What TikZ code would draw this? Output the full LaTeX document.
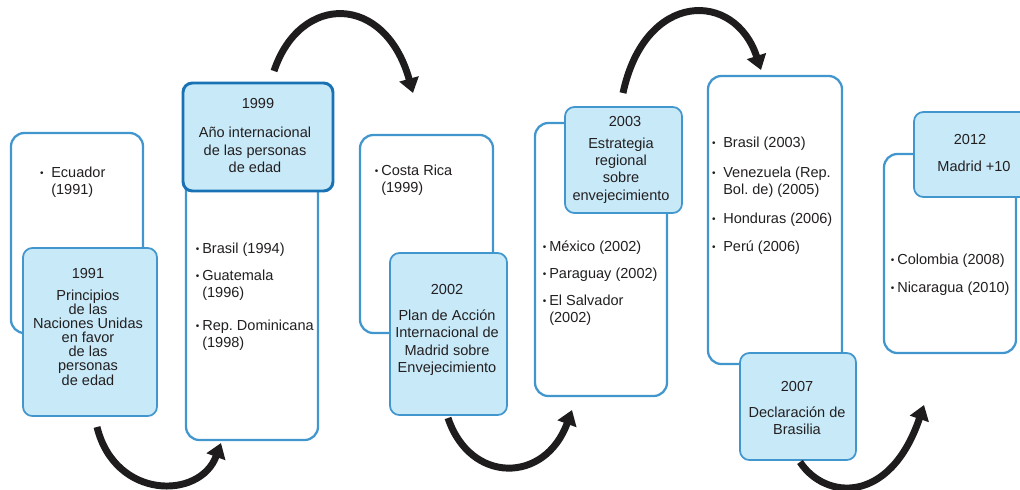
\documentclass[tikz,border=0pt]{standalone}
\usepackage{fontspec}
\setmainfont{Liberation Sans}
\usetikzlibrary{arrows.meta}
\definecolor{bfill}{RGB}{199,233,248}
\definecolor{bline}{RGB}{66,150,206}
\definecolor{bdark}{RGB}{24,114,180}
\definecolor{tgray}{RGB}{35,31,32}
\definecolor{agray}{RGB}{30,28,28}
\newcommand\fsz{\fontsize{10.9pt}{13pt}\selectfont}
\newcommand\bulN{\llap{\raisebox{0.8pt}{\fontsize{7.5pt}{7.5pt}\selectfont\textbullet}\hspace{2.2pt}}}
\newcommand\bulW{\llap{\raisebox{0.8pt}{\fontsize{7.5pt}{7.5pt}\selectfont\textbullet}\hspace{5.8pt}}}
\tikzset{
  wbox/.style={draw=bline, line width=1.7pt, fill=white, rounded corners=10pt},
  bbox/.style={draw=bline, line width=1.3pt, fill=bfill, rounded corners=7pt},
  txt/.style={font=\fsz, text=tgray, inner sep=0pt, align=center},
  itm/.style={font=\fsz, text=tgray, inner sep=0pt, align=left, anchor=west},
  arr/.style={draw=agray, line width=5.2pt, -{Triangle[width=14.5pt,length=11pt]}},
}
\begin{document}
\begin{tikzpicture}[x=0.75pt,y=-0.75pt]
\useasboundingbox (0,0) rectangle (1020,489);
\clip (0,0) rectangle (1020,489);
% ---------- box A ----------
\path[wbox] (11,133) rectangle (143,333);
\path[bbox] (23,248) rectangle (157,416);
\node[itm] (a1) at (51,182) {\bulW Ecuador\\(1991)};
\node[txt] (ay) at (88,273) {1991};
\node[txt, font=\fontsize{10.9pt}{10.6pt}\selectfont] (at) at (88,337.5)
  {Principios\\de las\\Naciones Unidas\\en favor\\de las\\personas\\de edad};
% ---------- box B ----------
\path[wbox] (186,150) rectangle (318,440);
\path[bbox, draw=bdark, line width=2.2pt] (183,83) rectangle (333,191);
\node[txt] (by) at (258,103) {1999};
\node[txt] (bt) at (255,150) {Año internacional\\de las personas\\de edad};
\node[itm] (b1) at (202,250) {\bulN Brasil (1994)};
\node[itm] (b2) at (202,285.5) {\bulN Guatemala\\(1996)};
\node[itm] (b3) at (202,335) {\bulN Rep.\ Dominicana\\(1998)};
% ---------- box C ----------
\path[wbox] (360,135) rectangle (493,333);
\path[bbox] (390,253) rectangle (507,415);
\node[itm] (c1) at (381,180.5) {\bulN Costa Rica\\(1999)};
\node[txt] (cy) at (447,289) {2002};
\node[txt] (ct) at (447,342.5) {Plan de Acción\\Internacional de\\Madrid sobre\\Envejecimiento};
% ---------- box D ----------
\path[wbox] (535,123) rectangle (667,396);
\path[bbox] (565,107) rectangle (682,213);
\node[txt] (dy) at (625,121) {2003};
\node[txt] (dt) at (621,170.5) {Estrategia\\regional\\sobre\\envejecimiento};
\node[itm] (d1) at (549,248) {\bulN México (2002)};
\node[itm] (d2) at (549,275) {\bulN Paraguay (2002)};
\node[itm] (d3) at (549,310) {\bulN El Salvador\\(2002)};
% ---------- box E ----------
\path[wbox] (708,76) rectangle (842,364);
\path[bbox] (740,353) rectangle (856,460);
\node[itm] (e1) at (723,144) {\bulW Brasil (2003)};
\node[itm] (e2) at (723,182) {\bulW Venezuela (Rep.\\Bol.\ de) (2005)};
\node[itm] (e3) at (723,220) {\bulW Honduras (2006)};
\node[itm] (e4) at (723,248) {\bulW Perú (2006)};
\node[txt] (ey) at (797,386) {2007};
\node[txt] (et) at (797,421) {Declaración de\\Brasilia};
% ---------- box F ----------
\path[wbox] (884,154) rectangle (1016,353);
\path[bbox] (914,112) rectangle (1034,197);
\node[txt] (fy) at (970,139) {2012};
\node[txt] (ft) at (974,166) {Madrid +10};
\node[itm] (f1) at (897,261) {\bulN Colombia (2008)};
\node[itm] (f2) at (897,289) {\bulN Nicaragua (2010)};
% ---------- arrows ----------
\coordinate (s1) at (97,427);  \coordinate (t1) at (221,443);
\coordinate (s2) at (274,71);  \coordinate (t2) at (413,93);
\coordinate (s3) at (448,418); \coordinate (t3) at (572,410);
\coordinate (s4) at (623,93);  \coordinate (t4) at (761,70);
\coordinate (s5) at (800,462); \coordinate (t5) at (924,405);
\draw[arr] (s1) .. controls (115,500) and (200,500) .. (t1);
\draw[arr] (s2) .. controls (300,-7) and (385,-7) .. (t2);
\draw[arr] (s3) .. controls (470,484) and (545,484) .. (t3);
\draw[arr] (s4) .. controls (645,-10) and (735,-10) .. (t4);
\draw[arr] (s5) .. controls (825,500) and (890,505) .. (t5);
\end{tikzpicture}
\end{document}
